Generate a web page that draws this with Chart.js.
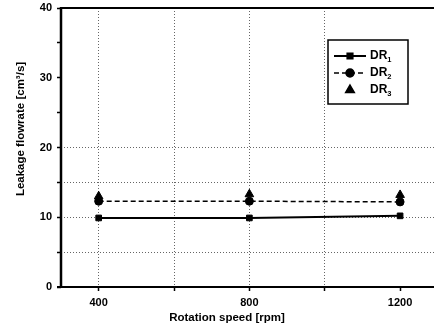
<!DOCTYPE html>
<html><head><meta charset="utf-8">
<script src="https://cdn.jsdelivr.net/npm/chart.js@4"></script>
<style>html,body{margin:0;padding:0;background:#fff;overflow:hidden}</style>
</head><body>
<canvas id="c" width="434" height="328"></canvas>
<script>
const speeds = [400, 800, 1200];
const seriesNames = ['DR', 'DR', 'DR'];
const seriesSubs = ['1', '2', '3'];
const dr1 = [9.9, 9.9, 10.2];
const dr2 = [12.3, 12.3, 12.2];
const dr3 = [13.0, 13.3, 13.2];
const xTickLabels = [400, 800, 1200];
const xTicksAll = [400, 600, 800, 1000, 1200];
const yTickLabels = [0, 10, 20, 30, 40];
const xTitle = 'Rotation speed [rpm]';
const yTitle = 'Leakage flowrate [cm³/s]';

const FONT = '"Liberation Sans", Arial, sans-serif';

function pts(vals){ return speeds.map((x,i)=>({x:x, y:vals[i]})); }

const xGridVals = [400, 600, 800, 1000];
const yGridVals = [5, 10, 15, 20];

const decor = {
  id: 'decor',
  afterDraw(chart){
    const ctx = chart.ctx, a = chart.chartArea;
    ctx.save();
    ctx.strokeStyle = '#000';
    ctx.lineWidth = 2;
    ctx.beginPath(); ctx.moveTo(a.left, a.top); ctx.lineTo(a.right, a.top); ctx.stroke();
    ctx.lineWidth = 2.5;
    ctx.beginPath(); ctx.moveTo(a.left, a.top - 1); ctx.lineTo(a.left, a.bottom + 1); ctx.stroke();
    ctx.lineWidth = 2;
    ctx.beginPath(); ctx.moveTo(a.left - 4, a.bottom); ctx.lineTo(a.right, a.bottom); ctx.stroke();

    ctx.fillStyle = '#000';
    ctx.font = 'bold 11.5px ' + FONT;
    ctx.textAlign = 'center'; ctx.textBaseline = 'middle';
    ctx.fillText(xTitle, 227, 318);
    ctx.save();
    ctx.translate(21, 129); ctx.rotate(-Math.PI/2);
    ctx.fillText(yTitle, 0, 0);
    ctx.restore();

    const bx = 328, by = 40, bw = 80, bh = 64;
    ctx.lineWidth = 1.5;
    ctx.strokeRect(bx, by, bw, bh);
    chart.data.datasets.forEach((ds, i) => {
      const cy = by + 16 + i * 17;
      if (ds.showLine !== false) {
        ctx.save();
        ctx.strokeStyle = ds.borderColor;
        ctx.lineWidth = ds.borderWidth;
        ctx.setLineDash(ds.borderDash || []);
        ctx.beginPath(); ctx.moveTo(bx + 6, cy); ctx.lineTo(bx + 38, cy); ctx.stroke();
        ctx.restore();
      }
      ctx.fillStyle = '#000'; ctx.strokeStyle = '#000';
      Chart.helpers.drawPoint(ctx, {pointStyle: ds.pointStyle, radius: ds.pointRadius, rotation: 0, borderWidth: 1}, bx + 22, cy);
      ctx.fillStyle = '#000';
      ctx.textAlign = 'left'; ctx.textBaseline = 'middle';
      ctx.font = 'bold 12px ' + FONT;
      ctx.fillText(seriesNames[i], bx + 42, cy);
      const w = ctx.measureText(seriesNames[i]).width;
      ctx.font = 'bold 7.5px ' + FONT;
      ctx.fillText(seriesSubs[i], bx + 42 + w, cy + 4);
    });
    ctx.restore();
  }
};

new Chart(document.getElementById('c'), {
  type: 'scatter',
  data: {
    datasets: [
      {label: 'DR1', data: pts(dr1), showLine: true, borderColor: '#000', backgroundColor: '#000', borderWidth: 2,
       pointStyle: 'rect', pointRadius: 4, pointBorderWidth: 1},
      {label: 'DR2', data: pts(dr2), showLine: true, borderColor: '#000', backgroundColor: '#000', borderWidth: 1.5,
       borderDash: [5, 3], pointStyle: 'circle', pointRadius: 4, pointBorderWidth: 1},
      {label: 'DR3', data: pts(dr3), showLine: false, borderColor: '#000', backgroundColor: '#000',
       pointStyle: 'triangle', pointRadius: 5, pointBorderWidth: 1}
    ]
  },
  options: {
    responsive: false,
    animation: false,
    devicePixelRatio: 1,
    layout: {autoPadding: false, padding: {top: 8, right: 0, left: 0, bottom: 0}},
    plugins: {legend: {display: false}, tooltip: {enabled: false}},
    scales: {
      x: {
        type: 'linear', min: 300, max: 1290,
        afterBuildTicks: s => { s.ticks = xTicksAll.map(v => ({value: v})); },
        afterFit: s => { s.height = 41; s.paddingLeft = 0; s.paddingRight = 0; },
        border: {display: false, dash: [1, 2]},
        grid: {
          color: c => (c.tick && xGridVals.includes(c.tick.value)) ? '#666' : 'rgba(0,0,0,0)',
          lineWidth: 1, tickColor: '#000', tickLength: 4, tickWidth: 1.5
        },
        ticks: {
          autoSkip: false, maxRotation: 0, padding: 5, color: '#000',
          font: {family: FONT, size: 11, weight: 'bold'},
          callback: v => xTickLabels.includes(v) ? String(v) : ''
        }
      },
      y: {
        type: 'linear', min: 0, max: 40,
        afterBuildTicks: s => { const t = []; for (let v = 0; v <= 40; v += 5) t.push({value: v}); s.ticks = t; },
        afterFit: s => { s.width = 61; s.paddingTop = 0; s.paddingBottom = 0; },
        border: {display: false, dash: [1, 2]},
        grid: {
          color: c => (c.tick && yGridVals.includes(c.tick.value)) ? '#666' : 'rgba(0,0,0,0)',
          lineWidth: 1, tickColor: '#000', tickLength: 4, tickWidth: 1.5
        },
        ticks: {
          autoSkip: false, padding: 5, color: '#000',
          font: {family: FONT, size: 11, weight: 'bold'},
          callback: v => yTickLabels.includes(v) ? String(v) : ''
        }
      }
    }
  },
  plugins: [decor]
});
</script>
</body></html>
